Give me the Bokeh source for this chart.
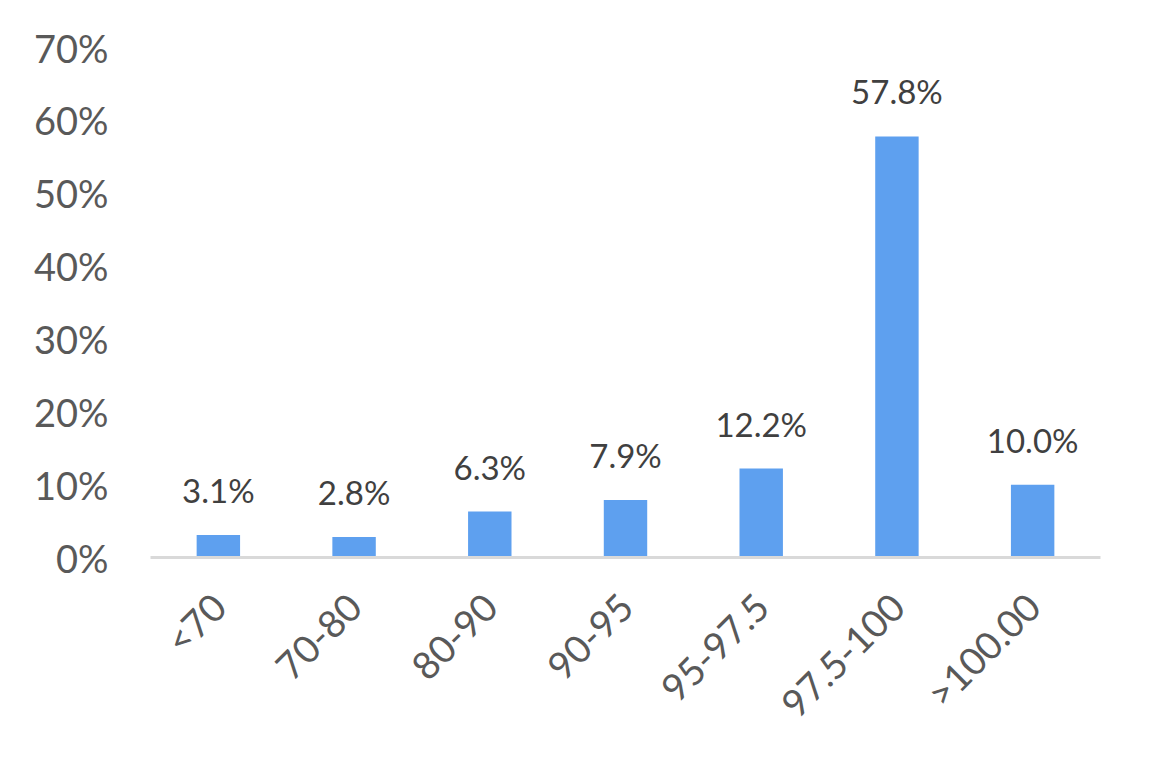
import math
from bokeh.plotting import figure
from bokeh.models import ColumnDataSource, FixedTicker, Range1d, CustomJSTickFormatter
from bokeh.core.properties import value
from bokeh.embed import file_html
from bokeh.resources import INLINE

categories = ["<70", "70-80", "80-90", "90-95", "95-97.5", "97.5-100", ">100.00"]
shares = [3.1, 2.8, 6.3, 7.9, 12.2, 57.8, 10.0]
y_ticks = [0, 10, 20, 30, 40, 50, 60, 70]

labels = [f"{v:.1f}%" for v in shares]
src = ColumnDataSource(dict(cat=categories, val=shares, lab=labels))

FONT = "Lato"
p = figure(x_range=categories, y_range=Range1d(0, 70), width=1143, height=757,
           output_backend="svg", toolbar_location=None,
           min_border_left=150, min_border_right=43, min_border_top=47, min_border_bottom=200)
p.outline_line_color = None
p.grid.grid_line_color = None

p.vbar(x="cat", top="val", width=0.32, source=src, color="#5EA0EF", line_color=None)
p.text(x="cat", y="val", text="lab", source=src, text_align="center", text_baseline="bottom",
       y_offset=-25, text_font=value(FONT), text_font_size="33px", text_color="#404040")

p.yaxis.ticker = FixedTicker(ticks=y_ticks)
p.yaxis.formatter = CustomJSTickFormatter(code="return tick + '%';")
p.yaxis.axis_line_color = None
p.yaxis.major_tick_line_color = None
p.yaxis.minor_tick_line_color = None
p.yaxis.major_label_text_font = FONT
p.yaxis.major_label_text_font_size = "38px"
p.yaxis.major_label_text_color = "#595959"
p.yaxis.major_label_standoff = 36

p.xaxis.axis_line_color = "#D9D9D9"
p.xaxis.axis_line_width = 3
p.xaxis.major_tick_line_color = None
p.xaxis.minor_tick_line_color = None
p.xaxis.major_label_orientation = math.pi / 4
p.xaxis.major_label_text_font = FONT
p.xaxis.major_label_text_font_size = "38px"
p.xaxis.major_label_text_color = "#595959"
p.xaxis.major_label_standoff = 36

open("out.html", "w").write(file_html(p, INLINE))
